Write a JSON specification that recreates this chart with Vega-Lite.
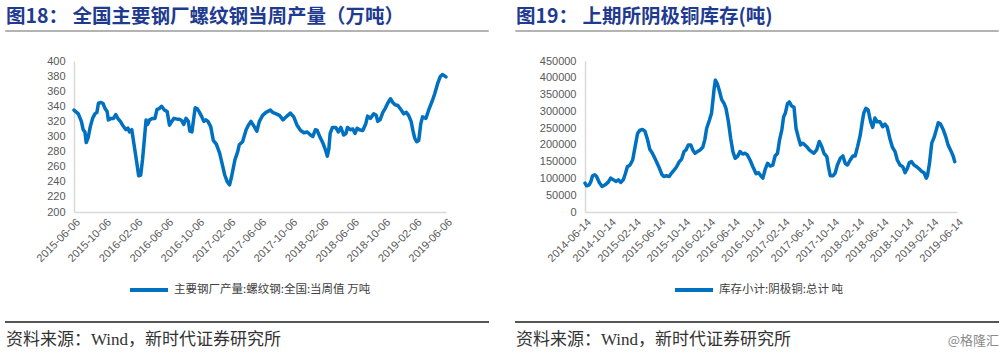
{
  "$schema": "https://vega.github.io/schema/vega-lite/v6.json",
  "background": "white",
  "padding": {"left": 5, "top": 5, "right": 0, "bottom": 0},
  "title": {"text": "@格隆汇", "orient": "bottom", "anchor": "end", "offset": -14, "fontSize": 13, "fontWeight": "normal", "color": "#8a8a8a", "font": "Noto Sans CJK SC"},
  "resolve": {"scale": {"color": "independent"}, "legend": {"color": "independent"}},
  "config": {
    "view": {"stroke": null},
    "axis": {"grid": false, "ticks": false, "domainColor": "#d9d9d9", "domainWidth": 1.5, "labelColor": "#595959", "labelFont": "Liberation Sans", "labelFontSize": 11, "title": null, "labelOverlap": false, "labelFlush": false},
    "axisY": {"labelPadding": 9, "minExtent": 67},
    "axisX": {"labelAngle": -45, "labelPadding": 4},
    "legend": {"orient": "none", "title": null, "symbolType": "stroke", "symbolSize": 1444, "symbolStrokeWidth": 4, "labelFontSize": 11.5, "labelColor": "#404040", "labelFont": "Noto Sans CJK SC", "padding": 0, "labelOffset": 4, "labelLimit": 400},
    "title": {"font": "Noto Sans CJK SC"}
  },
  "spacing": 26,
  "hconcat": [
    {
      "spacing": 23,
      "resolve": {"scale": {"color": "independent"}, "legend": {"color": "independent"}},
      "vconcat": [
        {
          "width": 482, "height": 0.001,
          "view": {"stroke": "#9a9a9a", "strokeWidth": 1.5},
          "title": {"text": "图18：  全国主要钢厂螺纹钢当周产量（万吨）", "anchor": "start", "orient": "top", "offset": 4, "fontSize": 19.5, "fontWeight": "bold", "color": "#1f3b8f"},
          "data": {"values": []},
          "mark": "point",
          "encoding": {}
        },
        {
          "spacing": 0,
          "resolve": {"scale": {"color": "independent"}, "legend": {"color": "independent"}},
          "hconcat": [
            {"width": 0.001, "height": 0.001, "data": {"values": []}, "mark": "point", "encoding": {}},
            {
              "width": 372, "height": 151,
              "data": {"values": [
                {"date": "2015-06-06", "value": 335}, {"date": "2015-06-23", "value": 330}, {"date": "2015-07-05", "value": 320}, {"date": "2015-07-12", "value": 309}, {"date": "2015-07-19", "value": 306}, {"date": "2015-07-24", "value": 292}, {"date": "2015-08-01", "value": 299}, {"date": "2015-08-09", "value": 313}, {"date": "2015-08-18", "value": 324}, {"date": "2015-08-27", "value": 330}, {"date": "2015-09-04", "value": 332}, {"date": "2015-09-10", "value": 344}, {"date": "2015-09-20", "value": 345}, {"date": "2015-09-28", "value": 344}, {"date": "2015-10-06", "value": 337}, {"date": "2015-10-14", "value": 333}, {"date": "2015-10-19", "value": 322}, {"date": "2015-10-29", "value": 324}, {"date": "2015-11-08", "value": 324}, {"date": "2015-11-17", "value": 329}, {"date": "2015-11-25", "value": 324}, {"date": "2015-12-05", "value": 320}, {"date": "2015-12-14", "value": 315}, {"date": "2015-12-27", "value": 309}, {"date": "2016-01-04", "value": 311}, {"date": "2016-01-10", "value": 306}, {"date": "2016-01-19", "value": 309}, {"date": "2016-01-27", "value": 291}, {"date": "2016-02-06", "value": 269}, {"date": "2016-02-15", "value": 248}, {"date": "2016-02-23", "value": 249}, {"date": "2016-03-01", "value": 269}, {"date": "2016-03-08", "value": 295}, {"date": "2016-03-15", "value": 322}, {"date": "2016-03-21", "value": 316}, {"date": "2016-03-29", "value": 322}, {"date": "2016-04-10", "value": 324}, {"date": "2016-04-19", "value": 324}, {"date": "2016-04-27", "value": 336}, {"date": "2016-05-06", "value": 337}, {"date": "2016-05-15", "value": 340}, {"date": "2016-05-26", "value": 335}, {"date": "2016-06-06", "value": 333}, {"date": "2016-06-15", "value": 315}, {"date": "2016-06-24", "value": 320}, {"date": "2016-07-02", "value": 324}, {"date": "2016-07-15", "value": 323}, {"date": "2016-07-24", "value": 323}, {"date": "2016-08-02", "value": 321}, {"date": "2016-08-10", "value": 316}, {"date": "2016-08-19", "value": 324}, {"date": "2016-08-28", "value": 320}, {"date": "2016-09-03", "value": 307}, {"date": "2016-09-11", "value": 306}, {"date": "2016-09-19", "value": 326}, {"date": "2016-09-24", "value": 338}, {"date": "2016-10-02", "value": 337}, {"date": "2016-10-11", "value": 332}, {"date": "2016-10-20", "value": 326}, {"date": "2016-10-28", "value": 320}, {"date": "2016-11-05", "value": 322}, {"date": "2016-11-13", "value": 320}, {"date": "2016-11-24", "value": 313}, {"date": "2016-12-04", "value": 295}, {"date": "2016-12-16", "value": 290}, {"date": "2016-12-29", "value": 278}, {"date": "2017-01-07", "value": 265}, {"date": "2017-01-18", "value": 249}, {"date": "2017-01-28", "value": 240}, {"date": "2017-02-06", "value": 236}, {"date": "2017-02-14", "value": 247}, {"date": "2017-02-27", "value": 269}, {"date": "2017-03-10", "value": 280}, {"date": "2017-03-16", "value": 289}, {"date": "2017-03-29", "value": 293}, {"date": "2017-04-12", "value": 309}, {"date": "2017-04-21", "value": 315}, {"date": "2017-05-01", "value": 320}, {"date": "2017-05-14", "value": 313}, {"date": "2017-05-24", "value": 307}, {"date": "2017-06-03", "value": 320}, {"date": "2017-06-16", "value": 328}, {"date": "2017-06-29", "value": 332}, {"date": "2017-07-16", "value": 335}, {"date": "2017-07-25", "value": 332}, {"date": "2017-08-08", "value": 330}, {"date": "2017-08-21", "value": 328}, {"date": "2017-09-04", "value": 322}, {"date": "2017-09-16", "value": 326}, {"date": "2017-10-03", "value": 331}, {"date": "2017-10-16", "value": 326}, {"date": "2017-10-29", "value": 315}, {"date": "2017-11-12", "value": 308}, {"date": "2017-11-25", "value": 305}, {"date": "2017-12-08", "value": 306}, {"date": "2017-12-21", "value": 302}, {"date": "2017-12-30", "value": 300}, {"date": "2018-01-09", "value": 309}, {"date": "2018-01-16", "value": 308}, {"date": "2018-01-26", "value": 300}, {"date": "2018-02-08", "value": 291}, {"date": "2018-02-17", "value": 283}, {"date": "2018-02-25", "value": 274}, {"date": "2018-03-03", "value": 284}, {"date": "2018-03-08", "value": 304}, {"date": "2018-03-17", "value": 312}, {"date": "2018-03-30", "value": 312}, {"date": "2018-04-09", "value": 306}, {"date": "2018-04-19", "value": 312}, {"date": "2018-04-30", "value": 302}, {"date": "2018-05-09", "value": 304}, {"date": "2018-05-15", "value": 312}, {"date": "2018-05-26", "value": 309}, {"date": "2018-06-05", "value": 310}, {"date": "2018-06-14", "value": 304}, {"date": "2018-06-22", "value": 311}, {"date": "2018-07-01", "value": 309}, {"date": "2018-07-14", "value": 308}, {"date": "2018-07-26", "value": 317}, {"date": "2018-08-02", "value": 327}, {"date": "2018-08-13", "value": 324}, {"date": "2018-08-26", "value": 330}, {"date": "2018-09-05", "value": 328}, {"date": "2018-09-11", "value": 320}, {"date": "2018-09-20", "value": 322}, {"date": "2018-10-01", "value": 332}, {"date": "2018-10-10", "value": 337}, {"date": "2018-10-20", "value": 344}, {"date": "2018-10-31", "value": 350}, {"date": "2018-11-09", "value": 345}, {"date": "2018-11-18", "value": 342}, {"date": "2018-11-29", "value": 341}, {"date": "2018-12-12", "value": 335}, {"date": "2018-12-22", "value": 330}, {"date": "2019-01-01", "value": 332}, {"date": "2019-01-10", "value": 328}, {"date": "2019-01-20", "value": 320}, {"date": "2019-01-27", "value": 308}, {"date": "2019-02-03", "value": 298}, {"date": "2019-02-11", "value": 293}, {"date": "2019-02-19", "value": 295}, {"date": "2019-02-27", "value": 317}, {"date": "2019-03-06", "value": 326}, {"date": "2019-03-19", "value": 324}, {"date": "2019-04-01", "value": 337}, {"date": "2019-04-14", "value": 348}, {"date": "2019-04-23", "value": 357}, {"date": "2019-05-04", "value": 370}, {"date": "2019-05-14", "value": 379}, {"date": "2019-05-23", "value": 382}, {"date": "2019-06-06", "value": 379}
              ]},
              "mark": {"type": "line", "strokeWidth": 3.5, "strokeJoin": "round", "strokeCap": "round"},
              "encoding": {
                "x": {"field": "date", "type": "temporal",
                  "scale": {"type": "utc", "domain": [{"year": 2015, "month": 6, "date": 6, "utc": true}, {"year": 2019, "month": 6, "date": 6, "utc": true}]},
                  "axis": {"format": "%Y-%m-%d", "values": [
                    {"year": 2015, "month": 6, "date": 6, "utc": true}, {"year": 2015, "month": 10, "date": 6, "utc": true}, {"year": 2016, "month": 2, "date": 6, "utc": true}, {"year": 2016, "month": 6, "date": 6, "utc": true}, {"year": 2016, "month": 10, "date": 6, "utc": true}, {"year": 2017, "month": 2, "date": 6, "utc": true}, {"year": 2017, "month": 6, "date": 6, "utc": true}, {"year": 2017, "month": 10, "date": 6, "utc": true}, {"year": 2018, "month": 2, "date": 6, "utc": true}, {"year": 2018, "month": 6, "date": 6, "utc": true}, {"year": 2018, "month": 10, "date": 6, "utc": true}, {"year": 2019, "month": 2, "date": 6, "utc": true}, {"year": 2019, "month": 6, "date": 6, "utc": true}
                  ]}},
                "y": {"field": "value", "type": "quantitative", "scale": {"domain": [200, 400], "nice": false, "zero": false},
                  "axis": {"values": [200, 220, 240, 260, 280, 300, 320, 340, 360, 380, 400]}},
                "color": {"datum": "主要钢厂产量:螺纹钢:全国:当周值 万吨", "type": "nominal",
                  "scale": {"range": ["#0070C0"]},
                  "legend": {"legendX": 54, "legendY": 208}}
              }
            }
          ]
        },
        {
          "width": 482, "height": 0.001,
          "view": {"stroke": "#555555", "strokeWidth": 2},
          "title": {"text": "资料来源：Wind，新时代证券研究所", "anchor": "start", "orient": "bottom", "offset": 10, "fontSize": 17, "fontWeight": "normal", "color": "#333333", "font": "'Liberation Serif', 'Noto Sans CJK SC'"},
          "data": {"values": []},
          "mark": "point",
          "encoding": {}
        }
      ]
    },
    {
      "spacing": 23,
      "resolve": {"scale": {"color": "independent"}, "legend": {"color": "independent"}},
      "vconcat": [
        {
          "width": 482, "height": 0.001,
          "view": {"stroke": "#9a9a9a", "strokeWidth": 1.5},
          "title": {"text": "图19：  上期所阴极铜库存(吨)", "anchor": "start", "orient": "top", "offset": 4, "fontSize": 19.5, "fontWeight": "bold", "color": "#1f3b8f"},
          "data": {"values": []},
          "mark": "point",
          "encoding": {}
        },
        {
          "spacing": 0,
          "resolve": {"scale": {"color": "independent"}, "legend": {"color": "independent"}},
          "hconcat": [
            {"width": 0.001, "height": 0.001, "data": {"values": []}, "mark": "point", "encoding": {}},
            {
              "width": 372, "height": 151,
              "data": {"values": [
                {"date": "2014-06-14", "value": 86000}, {"date": "2014-06-22", "value": 78000}, {"date": "2014-07-05", "value": 81000}, {"date": "2014-07-13", "value": 91000}, {"date": "2014-07-21", "value": 108000}, {"date": "2014-08-01", "value": 111000}, {"date": "2014-08-10", "value": 106000}, {"date": "2014-08-23", "value": 88000}, {"date": "2014-09-06", "value": 76000}, {"date": "2014-09-21", "value": 81000}, {"date": "2014-10-06", "value": 89000}, {"date": "2014-10-18", "value": 101000}, {"date": "2014-10-31", "value": 96000}, {"date": "2014-11-14", "value": 91000}, {"date": "2014-11-25", "value": 96000}, {"date": "2014-12-06", "value": 88000}, {"date": "2014-12-19", "value": 96000}, {"date": "2014-12-29", "value": 114000}, {"date": "2015-01-08", "value": 135000}, {"date": "2015-01-21", "value": 140000}, {"date": "2015-02-03", "value": 155000}, {"date": "2015-02-15", "value": 195000}, {"date": "2015-02-27", "value": 234000}, {"date": "2015-03-11", "value": 244000}, {"date": "2015-03-23", "value": 246000}, {"date": "2015-04-04", "value": 241000}, {"date": "2015-04-15", "value": 220000}, {"date": "2015-04-28", "value": 187000}, {"date": "2015-05-11", "value": 175000}, {"date": "2015-05-27", "value": 155000}, {"date": "2015-06-14", "value": 131000}, {"date": "2015-06-27", "value": 111000}, {"date": "2015-07-06", "value": 106000}, {"date": "2015-07-19", "value": 108000}, {"date": "2015-08-01", "value": 106000}, {"date": "2015-08-13", "value": 116000}, {"date": "2015-08-24", "value": 124000}, {"date": "2015-09-06", "value": 134000}, {"date": "2015-09-20", "value": 150000}, {"date": "2015-10-01", "value": 157000}, {"date": "2015-10-13", "value": 180000}, {"date": "2015-10-23", "value": 185000}, {"date": "2015-11-03", "value": 200000}, {"date": "2015-11-15", "value": 200000}, {"date": "2015-11-25", "value": 185000}, {"date": "2015-12-06", "value": 175000}, {"date": "2015-12-18", "value": 180000}, {"date": "2015-12-31", "value": 185000}, {"date": "2016-01-13", "value": 193000}, {"date": "2016-01-23", "value": 215000}, {"date": "2016-02-01", "value": 249000}, {"date": "2016-02-15", "value": 274000}, {"date": "2016-02-25", "value": 294000}, {"date": "2016-03-03", "value": 333000}, {"date": "2016-03-09", "value": 368000}, {"date": "2016-03-15", "value": 393000}, {"date": "2016-03-24", "value": 383000}, {"date": "2016-04-03", "value": 363000}, {"date": "2016-04-15", "value": 335000}, {"date": "2016-04-27", "value": 323000}, {"date": "2016-05-06", "value": 309000}, {"date": "2016-05-18", "value": 269000}, {"date": "2016-05-29", "value": 220000}, {"date": "2016-06-09", "value": 180000}, {"date": "2016-06-20", "value": 160000}, {"date": "2016-07-01", "value": 165000}, {"date": "2016-07-14", "value": 180000}, {"date": "2016-07-27", "value": 173000}, {"date": "2016-08-08", "value": 175000}, {"date": "2016-08-19", "value": 170000}, {"date": "2016-09-01", "value": 155000}, {"date": "2016-09-15", "value": 135000}, {"date": "2016-10-01", "value": 114000}, {"date": "2016-10-13", "value": 117000}, {"date": "2016-10-24", "value": 108000}, {"date": "2016-11-03", "value": 101000}, {"date": "2016-11-15", "value": 128000}, {"date": "2016-11-26", "value": 145000}, {"date": "2016-12-09", "value": 137000}, {"date": "2016-12-22", "value": 140000}, {"date": "2017-01-02", "value": 167000}, {"date": "2017-01-14", "value": 175000}, {"date": "2017-01-24", "value": 215000}, {"date": "2017-02-04", "value": 244000}, {"date": "2017-02-13", "value": 284000}, {"date": "2017-02-21", "value": 294000}, {"date": "2017-03-04", "value": 323000}, {"date": "2017-03-13", "value": 328000}, {"date": "2017-03-24", "value": 316000}, {"date": "2017-04-05", "value": 312000}, {"date": "2017-04-15", "value": 249000}, {"date": "2017-04-26", "value": 223000}, {"date": "2017-05-07", "value": 200000}, {"date": "2017-05-17", "value": 205000}, {"date": "2017-05-28", "value": 200000}, {"date": "2017-06-09", "value": 193000}, {"date": "2017-06-19", "value": 185000}, {"date": "2017-06-30", "value": 180000}, {"date": "2017-07-12", "value": 175000}, {"date": "2017-07-25", "value": 185000}, {"date": "2017-08-07", "value": 210000}, {"date": "2017-08-19", "value": 195000}, {"date": "2017-08-30", "value": 175000}, {"date": "2017-09-13", "value": 165000}, {"date": "2017-09-21", "value": 135000}, {"date": "2017-09-30", "value": 108000}, {"date": "2017-10-13", "value": 108000}, {"date": "2017-10-24", "value": 116000}, {"date": "2017-11-04", "value": 140000}, {"date": "2017-11-18", "value": 160000}, {"date": "2017-12-01", "value": 167000}, {"date": "2017-12-12", "value": 145000}, {"date": "2017-12-23", "value": 140000}, {"date": "2018-01-06", "value": 155000}, {"date": "2018-01-19", "value": 167000}, {"date": "2018-01-30", "value": 167000}, {"date": "2018-02-11", "value": 195000}, {"date": "2018-02-24", "value": 229000}, {"date": "2018-03-06", "value": 269000}, {"date": "2018-03-14", "value": 296000}, {"date": "2018-03-24", "value": 309000}, {"date": "2018-04-04", "value": 304000}, {"date": "2018-04-16", "value": 269000}, {"date": "2018-04-26", "value": 252000}, {"date": "2018-05-07", "value": 280000}, {"date": "2018-05-18", "value": 269000}, {"date": "2018-06-01", "value": 269000}, {"date": "2018-06-14", "value": 254000}, {"date": "2018-06-25", "value": 262000}, {"date": "2018-07-06", "value": 254000}, {"date": "2018-07-19", "value": 220000}, {"date": "2018-08-01", "value": 193000}, {"date": "2018-08-14", "value": 180000}, {"date": "2018-08-25", "value": 155000}, {"date": "2018-09-07", "value": 140000}, {"date": "2018-09-21", "value": 135000}, {"date": "2018-10-02", "value": 117000}, {"date": "2018-10-14", "value": 131000}, {"date": "2018-10-23", "value": 147000}, {"date": "2018-11-03", "value": 150000}, {"date": "2018-11-15", "value": 140000}, {"date": "2018-11-28", "value": 135000}, {"date": "2018-12-11", "value": 128000}, {"date": "2018-12-23", "value": 121000}, {"date": "2019-01-03", "value": 117000}, {"date": "2019-01-14", "value": 101000}, {"date": "2019-01-20", "value": 108000}, {"date": "2019-01-30", "value": 145000}, {"date": "2019-02-10", "value": 205000}, {"date": "2019-02-22", "value": 223000}, {"date": "2019-03-04", "value": 244000}, {"date": "2019-03-14", "value": 266000}, {"date": "2019-03-25", "value": 262000}, {"date": "2019-04-07", "value": 246000}, {"date": "2019-04-20", "value": 224000}, {"date": "2019-05-01", "value": 200000}, {"date": "2019-05-13", "value": 185000}, {"date": "2019-05-26", "value": 167000}, {"date": "2019-06-03", "value": 150000}
              ]},
              "mark": {"type": "line", "strokeWidth": 3.5, "strokeJoin": "round", "strokeCap": "round"},
              "encoding": {
                "x": {"field": "date", "type": "temporal",
                  "scale": {"type": "utc", "domain": [{"year": 2014, "month": 6, "date": 14, "utc": true}, {"year": 2019, "month": 6, "date": 14, "utc": true}]},
                  "axis": {"format": "%Y-%m-%d", "values": [
                    {"year": 2014, "month": 6, "date": 14, "utc": true}, {"year": 2014, "month": 10, "date": 14, "utc": true}, {"year": 2015, "month": 2, "date": 14, "utc": true}, {"year": 2015, "month": 6, "date": 14, "utc": true}, {"year": 2015, "month": 10, "date": 14, "utc": true}, {"year": 2016, "month": 2, "date": 14, "utc": true}, {"year": 2016, "month": 6, "date": 14, "utc": true}, {"year": 2016, "month": 10, "date": 14, "utc": true}, {"year": 2017, "month": 2, "date": 14, "utc": true}, {"year": 2017, "month": 6, "date": 14, "utc": true}, {"year": 2017, "month": 10, "date": 14, "utc": true}, {"year": 2018, "month": 2, "date": 14, "utc": true}, {"year": 2018, "month": 6, "date": 14, "utc": true}, {"year": 2018, "month": 10, "date": 14, "utc": true}, {"year": 2019, "month": 2, "date": 14, "utc": true}, {"year": 2019, "month": 6, "date": 14, "utc": true}
                  ]}},
                "y": {"field": "value", "type": "quantitative", "scale": {"domain": [0, 450000], "nice": false},
                  "axis": {"format": "d", "values": [0, 50000, 100000, 150000, 200000, 250000, 300000, 350000, 400000, 450000], "minExtent": 68}},
                "color": {"datum": "库存小计:阴极铜:总计 吨", "type": "nominal",
                  "scale": {"range": ["#0070C0"]},
                  "legend": {"legendX": 88, "legendY": 208}}
              }
            }
          ]
        },
        {
          "width": 482, "height": 0.001,
          "view": {"stroke": "#555555", "strokeWidth": 2},
          "title": {"text": "资料来源：Wind，新时代证券研究所", "anchor": "start", "orient": "bottom", "offset": 10, "fontSize": 17, "fontWeight": "normal", "color": "#333333", "font": "'Liberation Serif', 'Noto Sans CJK SC'"},
          "data": {"values": []},
          "mark": "point",
          "encoding": {}
        }
      ]
    }
  ]
}
